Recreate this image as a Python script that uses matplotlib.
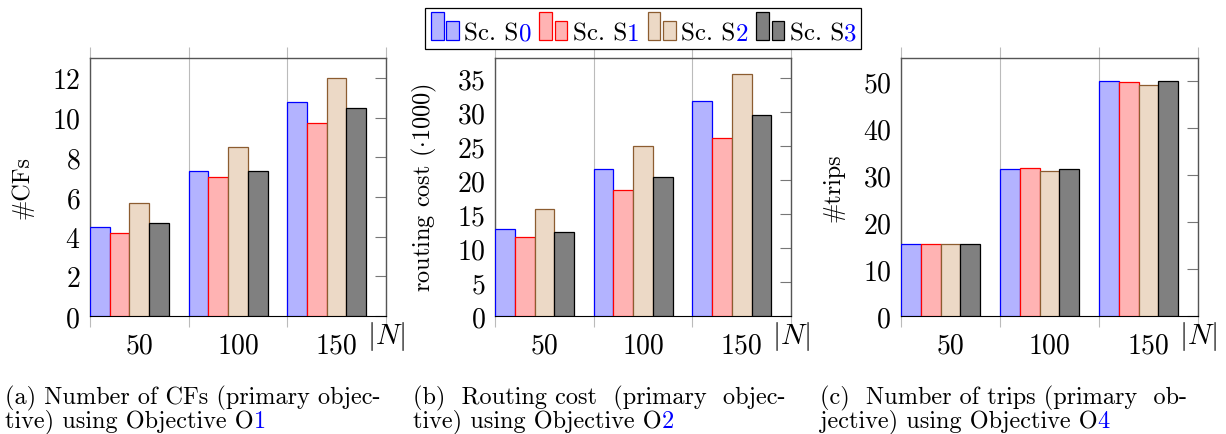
import matplotlib
matplotlib.use("Agg")
import matplotlib.pyplot as plt
import numpy as np
from matplotlib.offsetbox import AnchoredOffsetbox, HPacker, TextArea, DrawingArea
from matplotlib.patches import Rectangle

plt.rcParams['font.family'] = ['cmr10']
plt.rcParams['mathtext.fontset'] = 'cm'
plt.rcParams['axes.unicode_minus'] = False
plt.rcParams['axes.formatter.use_mathtext'] = True

# data
sizes = ['50', '100', '150']
scenarios = ['0', '1', '2', '3']

cfs = {
    '0': [4.5, 7.3, 10.8],
    '1': [4.2, 7.0, 9.7],
    '2': [5.7, 8.5, 12.0],
    '3': [4.7, 7.3, 10.5],
}
cost = {
    '0': [12.8, 21.6, 31.7],
    '1': [11.7, 18.6, 26.2],
    '2': [15.7, 25.0, 35.7],
    '3': [12.4, 20.4, 29.6],
}
trips = {
    '0': [15.3, 31.4, 50.0],
    '1': [15.3, 31.5, 49.8],
    '2': [15.3, 30.9, 49.2],
    '3': [15.3, 31.3, 50.0],
}

fills = ['#b3b3ff', '#ffb3b3', '#ecd9c6', '#808080']
edges = ['#0000ff', '#ff0000', '#8c5c30', '#000000']

fig = plt.figure(figsize=(12.26, 4.35), dpi=100)
FS = 20      # tick labels
YFS = 17.5   # y labels
CFS = 17.5   # captions
LFS = 18     # legend


def text_row(parts, fs):
    # parts: list of (text, colour), packed on a common baseline
    kids = [TextArea(t, textprops=dict(fontsize=fs, color=c)) for t, c in parts]
    return HPacker(children=kids, align='baseline', pad=0, sep=0)


def place(child, x, y, loc='center left'):
    ab = AnchoredOffsetbox(loc=loc, child=child, pad=0, borderpad=0, frameon=False,
                           bbox_to_anchor=(x, y), bbox_transform=fig.transFigure)
    fig.add_artist(ab)
    return ab


def panel(left, width, data, ymax, yticks, ylabel, caption, capnum, capx):
    ax = fig.add_axes([left, 0.2713, width, 0.5931])
    x = np.arange(len(sizes))
    w = 0.2
    for i, s in enumerate(scenarios):
        ax.bar(x + i * w, data[s], width=w, align='edge', color=fills[i],
               edgecolor=edges[i], linewidth=0.9, zorder=3)
    ax.set_xlim(0, 3)
    ax.set_ylim(0, ymax)
    ax.set_xticks([0, 1, 2, 3])
    ax.set_xticklabels([])
    ax.set_xticks(x + 0.5, minor=True)
    ax.set_xticklabels(sizes, minor=True)
    ax.tick_params(axis='x', which='major', direction='out', length=8,
                   top=True, bottom=True, color='#bbbbbb', width=0.8)
    ax.tick_params(axis='x', which='minor', length=0, labelsize=FS, pad=12)
    ax.grid(axis='x', which='major', color='#bbbbbb', linewidth=0.8, zorder=0)
    ax.set_yticks(yticks)
    ax.tick_params(axis='y', left=False, right=True, direction='in', length=8,
                   color='#777777', labelsize=FS, pad=7)
    for sp in ['top', 'right', 'left']:
        ax.spines[sp].set_color('#555555')
        ax.spines[sp].set_linewidth(1.0)
    ax.spines['bottom'].set_color('black')
    ax.set_ylabel(ylabel, fontsize=YFS)
    ax.yaxis.set_label_coords(-0.19, 0.5)
    ax.text(1.0, -0.075, r'$|N|$', transform=ax.transAxes, fontsize=FS + 1,
            ha='center', va='center')
    # caption, the objective number in blue
    place(text_row([(caption[0], 'black')], CFS), capx, 1 - 398 / 435)
    place(text_row([(caption[1], 'black'), (capnum, 'blue')], CFS), capx, 1 - 422 / 435)
    return ax


panel(0.0734, 0.2414, cfs, 13, [0, 2, 4, 6, 8, 10, 12], '#CFs',
      ['(a) Number of CFs (primary objec-', 'tive) using Objective O'], '1', 5 / 1226)
panel(0.4038, 0.2414, cost, 38, [0, 5, 10, 15, 20, 25, 30, 35],
      r'routing cost ($\cdot$1000)',
      ['(b)  Routing cost  (primary  objec-', 'tive) using Objective O'], '2', 413 / 1226)
panel(0.7349, 0.2423, trips, 55, [0, 10, 20, 30, 40, 50], '#trips',
      ['(c)  Number of trips (primary  ob-', 'jective) using Objective O'], '4', 820 / 1226)

# legend built from pieces so the scenario digit can be blue
items = []
for i, s in enumerate(scenarios):
    da = DrawingArea(22, 20, 0, 0)
    da.add_artist(Rectangle((1, 0), 9, 20, facecolor=fills[i], edgecolor=edges[i], linewidth=0.9))
    da.add_artist(Rectangle((12, 0), 9, 14, facecolor=fills[i], edgecolor=edges[i], linewidth=0.9))
    row = text_row([('Sc. S', 'black'), (s, 'blue')], LFS)
    items.append(HPacker(children=[da, row], align='baseline', pad=0, sep=3))
box = HPacker(children=items, align='center', pad=0, sep=5)
anch = AnchoredOffsetbox(loc='center', child=box, pad=0.3, borderpad=0,
                         frameon=True, bbox_to_anchor=(0.5245, 0.932),
                         bbox_transform=fig.transFigure)
anch.patch.set_edgecolor('black')
anch.patch.set_linewidth(0.9)
anch.patch.set_boxstyle('square', pad=0)
fig.add_artist(anch)

fig.savefig('out.png', dpi=100)
